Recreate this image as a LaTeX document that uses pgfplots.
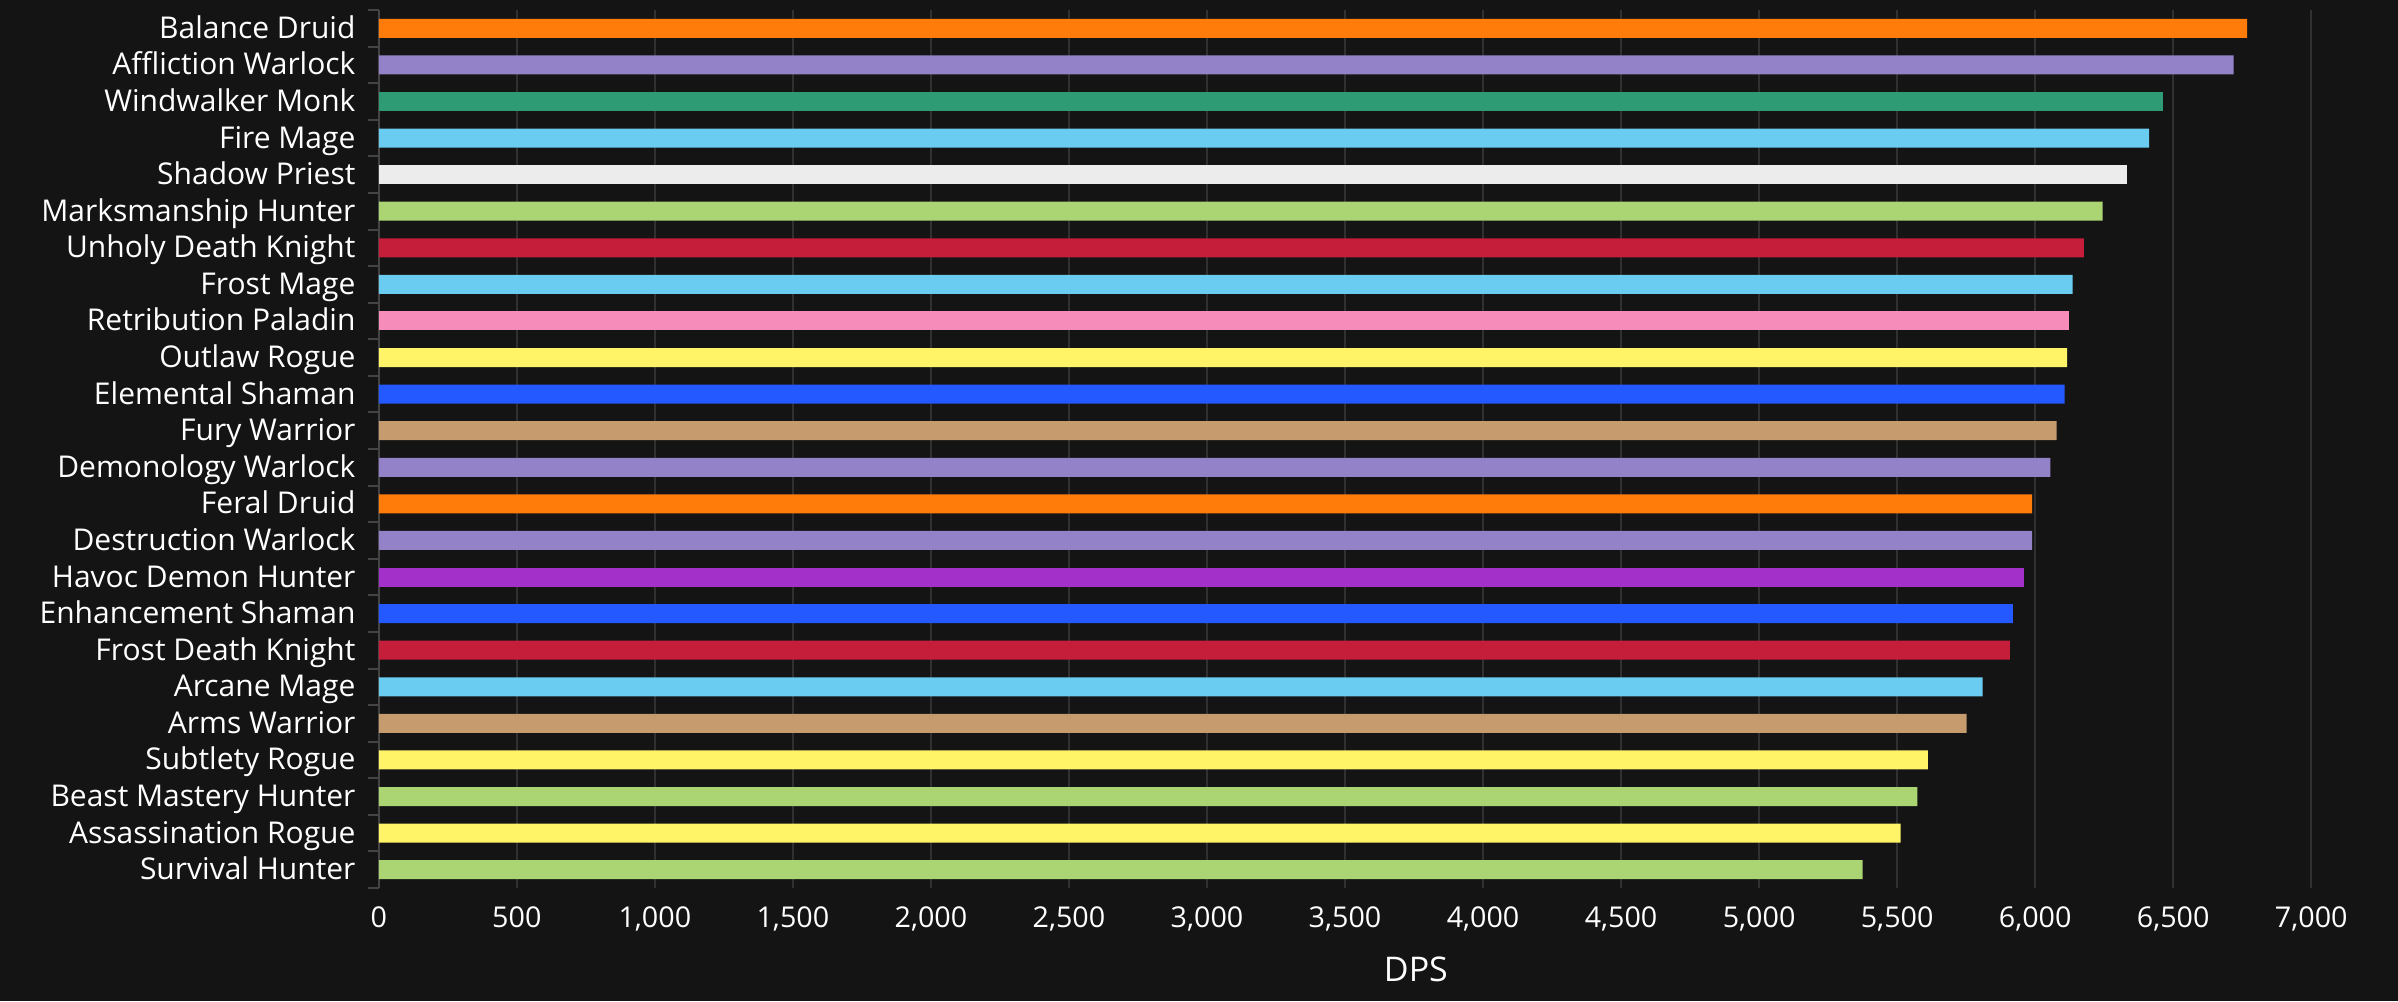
\documentclass[border=0pt]{standalone}
\usepackage{pgfplots}
\pgfplotsset{compat=1.18}
\usepackage{fontspec}
\setmainfont{Open Sans}

\definecolor{bg}{HTML}{141414}
\definecolor{gridc}{HTML}{303030}
\definecolor{axisc}{HTML}{444444}
\definecolor{druid}{HTML}{FF7C0A}
\definecolor{warlock}{HTML}{9482C9}
\definecolor{monk}{HTML}{2E9B75}
\definecolor{mage}{HTML}{69CCF0}
\definecolor{priest}{HTML}{ECECEC}
\definecolor{hunter}{HTML}{ABD473}
\definecolor{dk}{HTML}{C41E3A}
\definecolor{paladin}{HTML}{F58CBA}
\definecolor{rogue}{HTML}{FFF468}
\definecolor{shaman}{HTML}{2459FF}
\definecolor{warrior}{HTML}{C69B6D}
\definecolor{dh}{HTML}{A330C9}

\begin{document}
\begin{tikzpicture}
% background, 1 px = 0.3pt (2398 x 1001 px)
\fill[bg] (0pt,0pt) rectangle (719.4pt,300.3pt);
\begin{axis}[
    at={(113.64pt,33.9pt)}, anchor=south west,
    scale only axis,
    width=579.72pt, height=263.4pt,
    xbar, bar width=5.7pt, bar shift=0pt,
    xmin=0, xmax=7000, ymin=-0.5, ymax=23.5,
    y dir=reverse,
    axis lines=left,
    x axis line style={draw=none,-},
    y axis line style={draw=axisc,-,line width=0.6pt},
    xtick={0,500,...,7000},
    ytick={0,...,23},
    minor ytick={-0.5,0.5,...,23.5},
    major tick length=0pt, minor tick length=3.3pt,
    tick align=outside,
    minor tick style={draw=axisc,line width=0.6pt},
    xmajorgrids,
    grid style={draw=gridc,line width=0.7pt},
    scaled x ticks=false,
    /pgf/number format/1000 sep={,},
    /pgf/number format/assume math mode=true,
    ticklabel style={white},
    xticklabel style={inner sep=0pt,anchor=north,yshift=-5.4pt,font=\fontsize{8.6}{11}\selectfont},
    yticklabel style={inner sep=0pt,anchor=base east,xshift=-6.8pt,yshift=-3pt,font=\fontsize{9.0}{11}\selectfont},
    yticklabels={Balance Druid,Affliction Warlock,Windwalker Monk,Fire Mage,Shadow Priest,Marksmanship Hunter,Unholy Death Knight,Frost Mage,Retribution Paladin,Outlaw Rogue,Elemental Shaman,Fury Warrior,Demonology Warlock,Feral Druid,Destruction Warlock,Havoc Demon Hunter,Enhancement Shaman,Frost Death Knight,Arcane Mage,Arms Warrior,Subtlety Rogue,Beast Mastery Hunter,Assassination Rogue,Survival Hunter},
    xlabel={DPS},
    xlabel style={white,font=\fontsize{10.2}{13}\selectfont,at={(axis description cs:0.5367,0)},anchor=base,yshift=-28.1pt},
    every axis plot/.append style={draw=none},
]
\addplot[fill=druid] coordinates {(6768,0) (5989,13)};
\addplot[fill=warlock] coordinates {(6719,1) (6055,12) (5989,14)};
\addplot[fill=monk] coordinates {(6463,2)};
\addplot[fill=mage] coordinates {(6413,3) (6136,7) (5810,18)};
\addplot[fill=priest] coordinates {(6332,4)};
\addplot[fill=hunter] coordinates {(6244,5) (5573,21) (5375,23)};
\addplot[fill=dk] coordinates {(6176,6) (5908,17)};
\addplot[fill=paladin] coordinates {(6124,8)};
\addplot[fill=rogue] coordinates {(6116,9) (5611,20) (5513,22)};
\addplot[fill=shaman] coordinates {(6107,10) (5919,16)};
\addplot[fill=warrior] coordinates {(6078,11) (5752,19)};
\addplot[fill=dh] coordinates {(5958,15)};
\end{axis}
\end{tikzpicture}
\end{document}
